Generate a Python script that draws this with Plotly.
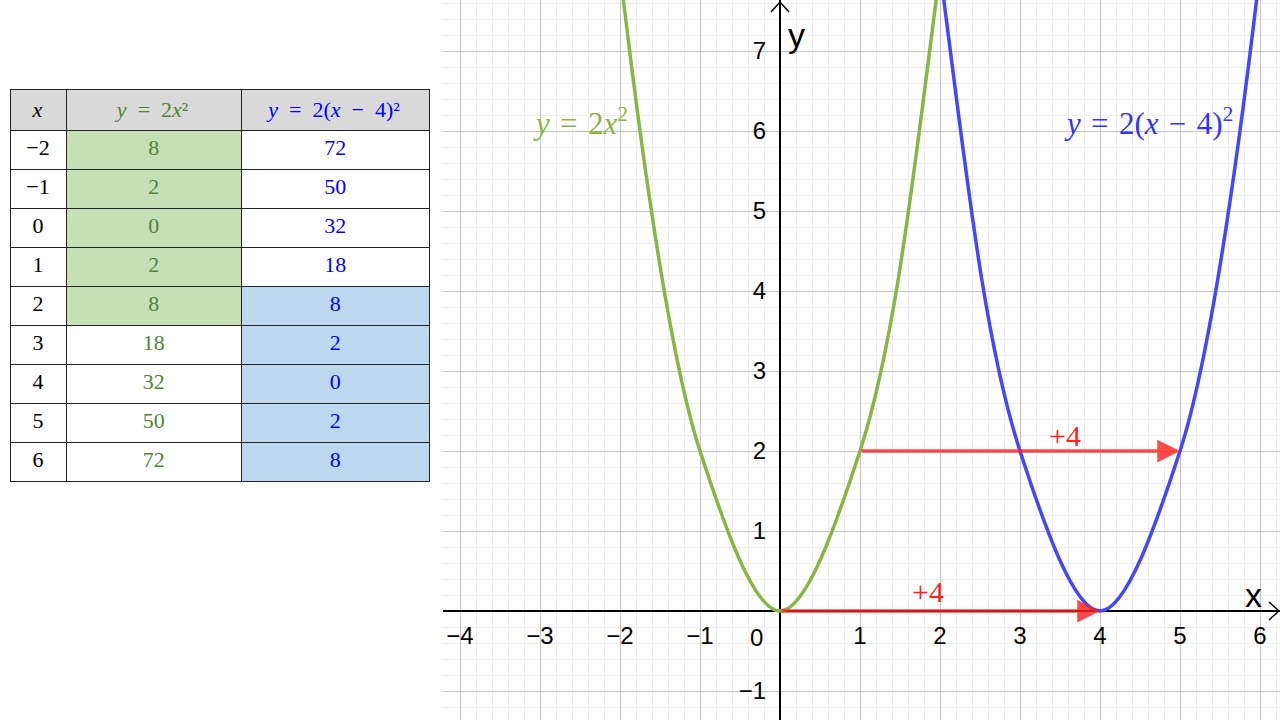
import plotly.graph_objects as go

# ---- data ----
x_vals = [-2, -1, 0, 1, 2, 3, 4, 5, 6]
y_green = [8, 2, 0, 2, 8, 18, 32, 50, 72]      # y = 2x^2
y_blue = [72, 50, 32, 18, 8, 2, 0, 2, 8]       # y = 2(x-4)^2
x_labels = ["\u22122", "\u22121", "0", "1", "2", "3", "4", "5", "6"]
SP = "\u00a0\u00a0"
headers = ["<i>x</i>",
           "<i>y</i>" + SP + "=" + SP + "2<i>x</i>\u00b2",
           "<i>y</i>" + SP + "=" + SP + "2(<i>x</i>" + SP + "\u2212" + SP + "4)\u00b2"]
S2 = "\u2004"
label_green = "<i>y</i>" + S2 + "=" + S2 + "2<i>x</i><sup>2</sup>"
label_blue = "<i>y</i>" + S2 + "=" + S2 + "2(<i>x</i>" + S2 + "\u2212" + S2 + "4)<sup>2</sup>"
shift = 4
arrow_starts = [(0, 0), (1, 2)]

xticks = [-4, -3, -2, -1, 1, 2, 3, 4, 5, 6]
yticks = [-1, 1, 2, 3, 4, 5, 6, 7]

GREEN = "#8AB443"
GREEN_TXT = "#548235"
BLUE = "#4545FF"
RED = "rgba(255,30,30,0.8)"
GREEN_FILL = "#C5E0B4"
BLUE_FILL = "#BDD7EE"

W, H = 1280, 720
x_range = [-4.2125, 6.25]
y_range = [-1.3625, 7.6375]
x_dom = [443 / W, 1.0]

fig = go.Figure()

# ---- table ----
n = len(x_vals)
green_fill = [GREEN_FILL if v <= 2 else "white" for v in x_vals]
blue_fill = [BLUE_FILL if v >= 2 else "white" for v in x_vals]
tfont = dict(family="Liberation Serif", size=22, color=["black", GREEN_TXT, "#0000FF"])
fig.add_trace(go.Table(
    domain=dict(x=[10 / W, 429 / W], y=[1 - 486 / H, 1 - 89 / H]),
    columnwidth=[56, 175, 187],
    header=dict(
        values=headers,
        fill_color="#D9D9D9",
        line=dict(color="#222", width=1),
        align="center",
        font=tfont,
        height=39,
    ),
    cells=dict(
        values=[x_labels, [str(v) for v in y_green], [str(v) for v in y_blue]],
        fill_color=[["white"] * n, green_fill, blue_fill],
        line=dict(color="#222", width=1),
        align="center",
        font=tfont,
        height=39,
    ),
))

# ---- curves ----
fig.add_trace(go.Scatter(x=x_vals, y=y_green, mode="lines",
                         line=dict(color=GREEN, width=3.5, shape="spline", smoothing=1),
                         hoverinfo="skip", showlegend=False))
fig.add_trace(go.Scatter(x=x_vals, y=y_blue, mode="lines",
                         line=dict(color=BLUE, width=3.5, shape="spline", smoothing=1),
                         hoverinfo="skip", showlegend=False))

# ---- red shift arrows ----
for (sx, sy) in arrow_starts:
    fig.add_annotation(x=sx + shift, y=sy, ax=sx, ay=sy, xref="x", yref="y", axref="x", ayref="y",
                       showarrow=True, arrowhead=2, arrowsize=1.3, arrowwidth=3.5, arrowcolor=RED,
                       text="")

lab_font_red = dict(family="Liberation Serif", size=30, color="#FF2020")
fig.add_annotation(x=3.56, y=2.2, text="+4", showarrow=False, xref="x", yref="y", font=lab_font_red)
fig.add_annotation(x=1.85, y=0.24, text="+4", showarrow=False, xref="x", yref="y", font=lab_font_red)

# ---- curve labels ----
fig.add_annotation(x=-2.5, y=6.12, text=label_green, showarrow=False,
                   xref="x", yref="y", font=dict(family="Liberation Serif", size=31, color=GREEN))
fig.add_annotation(x=4.6, y=6.12, text=label_blue,
                   showarrow=False, xref="x", yref="y",
                   font=dict(family="Liberation Serif", size=31, color="#3333FF"))

# ---- axis labels and origin ----
fig.add_annotation(x=-0.29, y=-0.33, text="0", showarrow=False, xref="x", yref="y",
                   font=dict(family="Liberation Sans", size=24, color="black"))
fig.add_annotation(x=0.21, y=7.2, text="y", showarrow=False, xref="x", yref="y",
                   font=dict(family="Liberation Sans", size=34, color="black"))
fig.add_annotation(x=5.92, y=0.2, text="x", showarrow=False, xref="x", yref="y",
                   font=dict(family="Liberation Sans", size=34, color="black"))

# ---- axis end arrows (open chevrons) ----
def px(xp, yp):
    return xp / W, 1 - yp / H

for pts in ([(771, 12), (780, 2), (789, 12)], [(1269, 602), (1279, 611), (1269, 620)]):
    p = [px(*q) for q in pts]
    path = "M {} {} L {} {} L {} {}".format(p[0][0], p[0][1], p[1][0], p[1][1], p[2][0], p[2][1])
    fig.add_shape(type="path", path=path, xref="paper", yref="paper",
                  line=dict(color="black", width=1.5))

zero_y = (0 - y_range[0]) / (y_range[1] - y_range[0])
zero_x = x_dom[0] + (0 - x_range[0]) / (x_range[1] - x_range[0]) * (x_dom[1] - x_dom[0])

fig.update_layout(
    width=W, height=H,
    margin=dict(l=0, r=0, t=0, b=0),
    paper_bgcolor="white", plot_bgcolor="white",
    showlegend=False,
    xaxis=dict(domain=x_dom, range=x_range, anchor="free", position=zero_y,
               tickmode="array", tickvals=xticks, ticks="", showline=False,
               showgrid=True, gridcolor="#C4C4C4", gridwidth=1.4,
               zeroline=True, zerolinecolor="black", zerolinewidth=1.5,
               minor=dict(tick0=0, dtick=0.2, showgrid=True, gridcolor="#EDEDED", gridwidth=1),
               tickfont=dict(family="Liberation Sans", size=24, color="black"),
               ticklabelstandoff=8, fixedrange=True),
    yaxis=dict(range=y_range, anchor="free", position=zero_x,
               tickmode="array", tickvals=yticks, ticks="", showline=False,
               showgrid=True, gridcolor="#C4C4C4", gridwidth=1.4,
               zeroline=True, zerolinecolor="black", zerolinewidth=1.5,
               minor=dict(tick0=0, dtick=0.2, showgrid=True, gridcolor="#EDEDED", gridwidth=1),
               tickfont=dict(family="Liberation Sans", size=24, color="black"),
               ticklabelstandoff=14, fixedrange=True),
)

fig.write_html("out.html")
